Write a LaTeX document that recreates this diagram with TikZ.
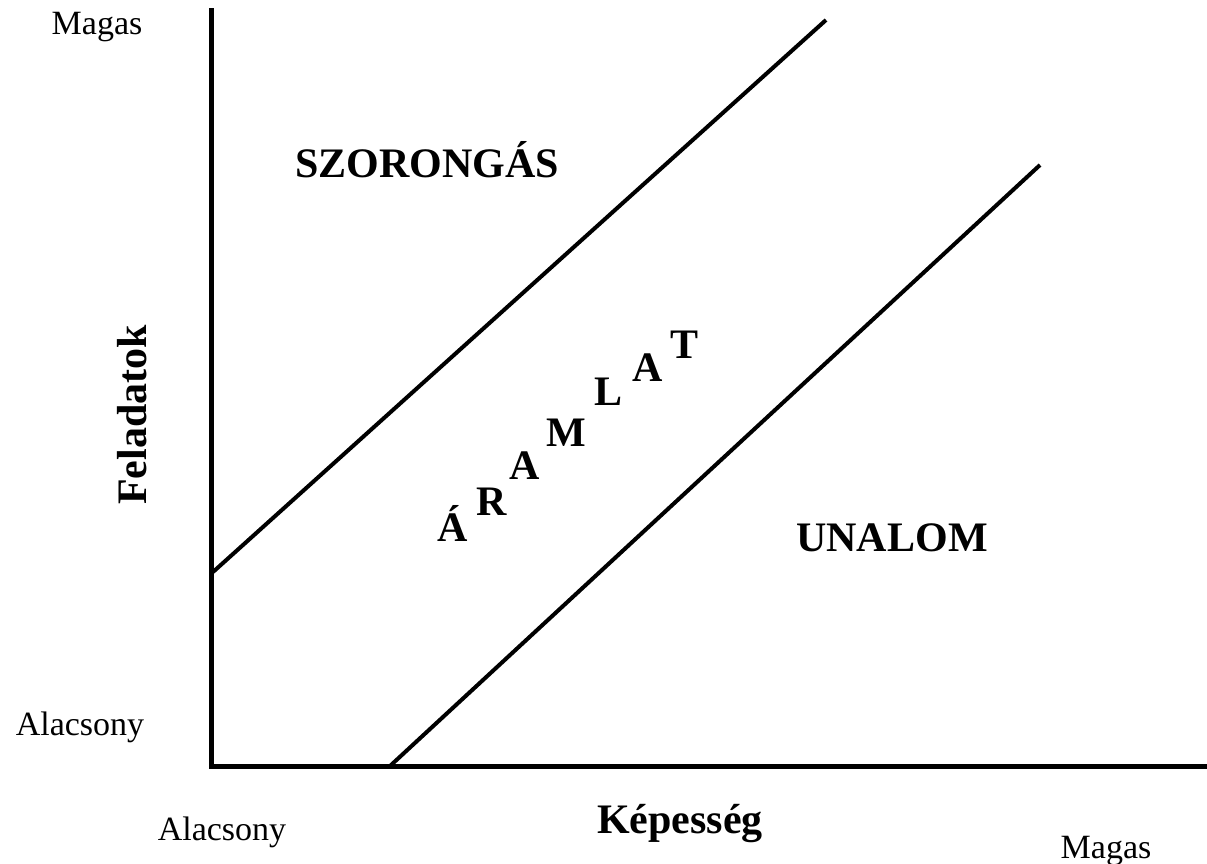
\documentclass[tikz,border=0pt]{standalone}
\usepackage{fontspec}
\setmainfont{Liberation Serif}
\begin{document}
\begin{tikzpicture}[x=1pt,y=-1pt,
  small/.style={font=\fontsize{34}{40}\selectfont, anchor=base, inner sep=0pt},
  big/.style={font=\fontsize{42}{48}\selectfont\bfseries, anchor=base, inner sep=0pt},
  axis/.style={line width=5pt, line cap=rect},
  diag/.style={line width=4pt}]
\useasboundingbox (0,0) rectangle (1207,864);
\coordinate (o) at (211,766);
\coordinate (ytop) at (211,11);
\coordinate (xend) at (1207,766);
\coordinate (a1) at (213,572);
\coordinate (a2) at (826,20);
\coordinate (b1) at (390,766);
\coordinate (b2) at (1040,165);
\draw[axis] (ytop) -- (o) -- (xend);
\draw[diag] (a1) -- (a2);
\draw[diag] (b1) -- (b2);
\node[small] (mt) at (97,35) {Magas};
\node[small] (al) at (80,735) {Alacsony};
\node[small] (ab) at (222,840) {Alacsony};
\node[small] (mb) at (1106,858) {Magas};
\node[big] (kep) at (680,833) {Képesség};
\node[big, rotate=90, anchor=center] (fel) at (132,415) {Feladatok};
\node[big] (sz) at (427,177) {SZORONGÁS};
\node[big] (un) at (892,551) {UNALOM};
\node[big] (l1) at (453,541) {Á};
\node[big] (l2) at (492,515) {R};
\node[big] (l3) at (525,479) {A};
\node[big] (l4) at (566,446) {M};
\node[big] (l5) at (608,405) {L};
\node[big] (l6) at (648,381) {A};
\node[big] (l7) at (684,358) {T};
\end{tikzpicture}
\end{document}
